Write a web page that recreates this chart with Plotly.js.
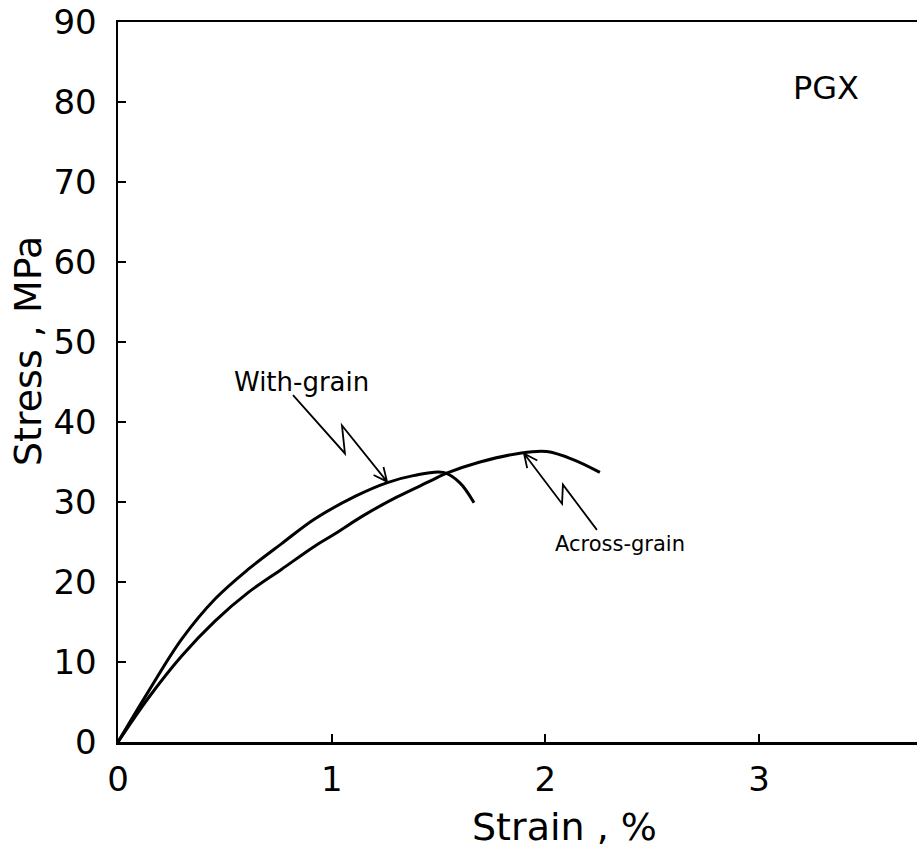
<!DOCTYPE html>
<html>
<head>
<meta charset="utf-8">
<script src="https://cdn.plot.ly/plotly-3.0.1.min.js"></script>
<style>html,body{margin:0;padding:0;background:#fff;overflow:hidden;}</style>
</head>
<body>
<div id="chart" style="width:917px;height:856px;"></div>
<script>
// Strain (%) and stress (MPa)
const withGrainStrain = [0, 0.142, 0.298, 0.455, 0.61, 0.766, 0.922, 1.109, 1.257, 1.382, 1.522, 1.60, 1.666];
const withGrainStress = [0, 6.3, 12.85, 17.9, 21.6, 24.8, 27.9, 30.7, 32.4, 33.3, 33.7, 32.4, 29.9];
const acrossGrainStrain = [0, 0.142, 0.298, 0.455, 0.61, 0.766, 0.922, 1.008, 1.148, 1.304, 1.46, 1.538, 1.694, 1.881, 2.006, 2.13, 2.255];
const acrossGrainStress = [0, 5.5, 10.75, 15.15, 18.7, 21.6, 24.5, 25.9, 28.3, 30.6, 32.6, 33.6, 35.0, 36.1, 36.3, 35.3, 33.7];
const xTickVals = [0, 1, 2, 3];
const yTickVals = [0, 10, 20, 30, 40, 50, 60, 70, 80, 90];

const W = 917, H = 856, ML = 118, MR = 0, MT = 22, MB = 114;
const XMAX = 3.739, YMAX = 90;
const pxX = (W - ML - MR) / XMAX, pxY = (H - MT - MB) / YMAX;

// zig-zag leader arrows (label end -> jag -> jag -> tip), data coordinates
const withArrow = [[0.819, 43.35], [1.062, 36.07], [1.048, 39.58], [1.259, 32.55]];
const acrossArrow = [[2.241, 26.52], [2.082, 32.17], [2.078, 29.79], [1.900, 36.07]];

function arrowPath(pts) {
  let d = 'M ' + pts.map(p => p[0] + ',' + p[1]).join(' L ');
  const a = pts[pts.length - 2], b = pts[pts.length - 1];
  let dx = (b[0] - a[0]) * pxX, dy = (b[1] - a[1]) * pxY;
  const len = Math.hypot(dx, dy); dx /= len; dy /= len;
  const L = 15, ang = 25 * Math.PI / 180;
  [ang, -ang].forEach(t => {
    const bx = -dx * Math.cos(t) + dy * Math.sin(t);
    const by = -dx * Math.sin(t) - dy * Math.cos(t);
    d += ' M ' + b[0] + ',' + b[1] + ' L ' + (b[0] + bx * L / pxX) + ',' + (b[1] + by * L / pxY);
  });
  return d;
}

const font = 'DejaVu Sans, sans-serif';

const traces = [
  {x: withGrainStrain, y: withGrainStress, mode: 'lines', name: 'With-grain',
   line: {color: '#000', width: 3, shape: 'spline', smoothing: 1}},
  {x: acrossGrainStrain, y: acrossGrainStress, mode: 'lines', name: 'Across-grain',
   line: {color: '#000', width: 3, shape: 'spline', smoothing: 1}}
];

const layout = {
  width: W, height: H,
  margin: {l: ML, r: MR, t: MT, b: MB},
  paper_bgcolor: '#fff', plot_bgcolor: '#fff',
  showlegend: false,
  font: {family: font, color: '#000'},
  xaxis: {range: [0, XMAX], tickvals: xTickVals, ticks: 'inside', ticklen: 8, tickwidth: 2,
          tickcolor: '#000', showline: true, linecolor: '#000', linewidth: 2.5, mirror: true,
          showgrid: false, zeroline: false, tickfont: {size: 34, family: font, color: '#000'},
          ticklabelstandoff: 6},
  yaxis: {range: [0, YMAX], tickvals: yTickVals, ticks: 'inside', ticklen: 8, tickwidth: 2,
          tickcolor: '#000', showline: true, linecolor: '#000', linewidth: 2.5,
          showgrid: false, zeroline: false, tickfont: {size: 34, family: font, color: '#000'},
          ticklabelstandoff: 12},
  shapes: [
    {type: 'path', xref: 'x', yref: 'y', path: arrowPath(withArrow), line: {color: '#000', width: 1.8}},
    {type: 'path', xref: 'x', yref: 'y', path: arrowPath(acrossArrow), line: {color: '#000', width: 1.8}}
  ],
  annotations: [
    {text: 'PGX', x: 3.313, y: 81.7, xref: 'x', yref: 'y', showarrow: false, font: {size: 32, family: font}},
    {text: 'With-grain', x: 0.861, y: 45.05, xref: 'x', yref: 'y', showarrow: false, font: {size: 26, family: font}},
    {text: 'Across-grain', x: 2.349, y: 24.8, xref: 'x', yref: 'y', showarrow: false, font: {size: 21, family: font}},
    {text: 'Strain , %', x: 0.5594, y: -0.118, xref: 'paper', yref: 'paper', xanchor: 'center', yanchor: 'middle',
     showarrow: false, font: {size: 38, family: font}},
    {text: 'Stress , MPa', x: -0.1126, y: 0.543, xref: 'paper', yref: 'paper', xanchor: 'center', yanchor: 'middle',
     textangle: -90, showarrow: false, font: {size: 38, family: font}}
  ]
};

Plotly.newPlot('chart', traces, layout, {displayModeBar: false, staticPlot: true});
</script>
</body>
</html>
